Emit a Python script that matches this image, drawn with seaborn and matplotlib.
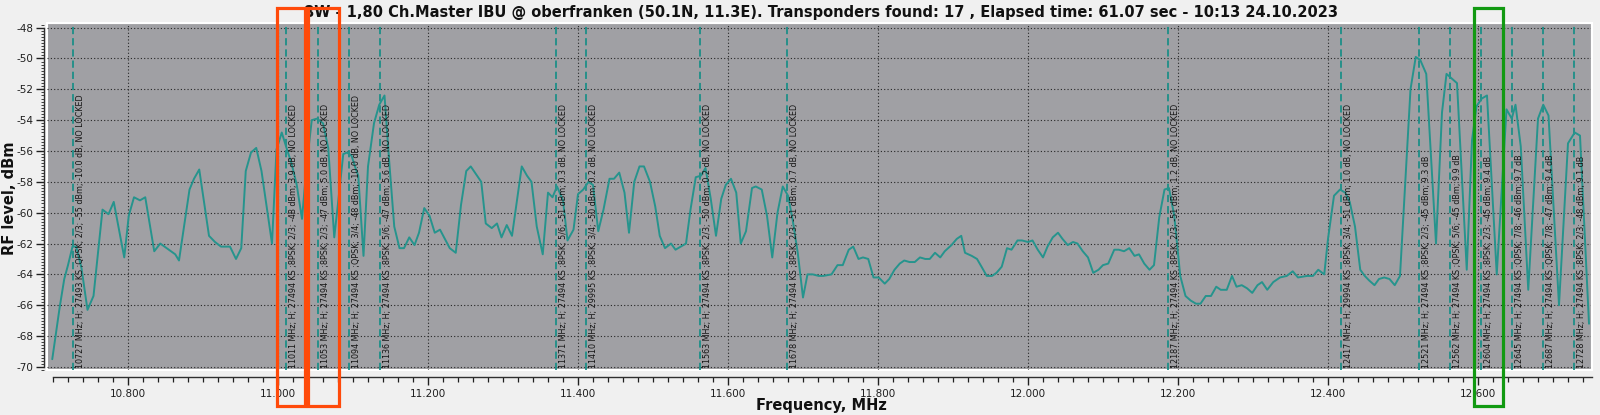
import seaborn as sns
import matplotlib.pyplot as plt
import matplotlib.transforms as mtransforms
from matplotlib.patches import Rectangle
from matplotlib.ticker import MultipleLocator, FuncFormatter

# spectrum scan
freq_mhz = [
    10699, 10709, 10715, 10720, 10726, 10731, 10738, 10746, 10754, 10766,
    10774, 10781, 10795, 10801, 10808, 10816, 10823, 10835, 10843, 10863,
    10868, 10882, 10888, 10895, 10908, 10916, 10924, 10936, 10944, 10951,
    10957, 10964, 10971, 10978, 10992, 10998, 11005, 11012, 11018, 11025,
    11032, 11038, 11045, 11052, 11060, 11067, 11075, 11080, 11087, 11092,
    11098, 11104, 11107, 11114, 11120, 11128, 11135, 11142, 11148, 11155,
    11162, 11168, 11175, 11182, 11188, 11195, 11202, 11209, 11216, 11229,
    11237, 11244, 11251, 11257, 11271, 11277, 11285, 11292, 11298, 11305,
    11312, 11325, 11332, 11338, 11345, 11353, 11360, 11366, 11372, 11380,
    11386, 11394, 11400, 11407, 11414, 11420, 11427, 11434, 11442, 11448,
    11455, 11462, 11468, 11475, 11482, 11488, 11496, 11503, 11509, 11516,
    11524, 11530, 11544, 11550, 11557, 11564, 11570, 11577, 11584, 11591,
    11597, 11604, 11611, 11617, 11624, 11632, 11637, 11645, 11652, 11659,
    11666, 11673, 11680, 11686, 11693, 11700, 11706, 11713, 11721, 11727,
    11738, 11746, 11753, 11761, 11767, 11774, 11780, 11787, 11794, 11801,
    11809, 11815, 11822, 11829, 11835, 11842, 11849, 11856, 11863, 11869,
    11876, 11883, 11889, 11898, 11905, 11911, 11916, 11925, 11932, 11938,
    11945, 11952, 11958, 11965, 11972, 11978, 11986, 11992, 12000, 12006,
    12013, 12020, 12026, 12033, 12040, 12046, 12053, 12060, 12066, 12073,
    12080, 12087, 12094, 12100, 12107, 12115, 12121, 12128, 12135, 12142,
    12148, 12155, 12162, 12168, 12175, 12182, 12188, 12195, 12203, 12210,
    12217, 12224, 12230, 12237, 12244, 12251, 12257, 12265, 12272, 12278,
    12285, 12292, 12299, 12306, 12312, 12319, 12327, 12336, 12345, 12353,
    12360, 12372, 12380, 12387, 12395, 12400, 12408, 12416, 12423, 12429,
    12436, 12443, 12449, 12455, 12462, 12468, 12475, 12482, 12489, 12496,
    12510, 12517, 12523, 12531, 12544, 12552, 12558, 12565, 12572, 12585,
    12592, 12598, 12605, 12612, 12625, 12638, 12645, 12650, 12657, 12667,
    12680, 12687, 12694, 12708, 12720, 12729, 12736, 12748,
]
level_dbm = [
    -69.5, -66.1, -64.3, -63.4, -62.2, -62.2, -63.6, -66.3, -65.4, -59.8,
    -60.1, -59.3, -62.9, -60.2, -59.0, -59.2, -59.0, -62.5, -62.0, -62.7,
    -63.1, -58.5, -57.8, -57.2, -61.5, -61.9, -62.2, -62.2, -63.0, -62.3,
    -57.3, -56.1, -55.8, -57.3, -62.0, -55.9, -54.8, -55.9, -56.8, -58.2,
    -60.4, -57.0, -54.0, -53.9, -54.2, -55.8, -61.6, -59.4, -56.2, -56.1,
    -56.3, -57.2, -57.6, -62.8, -57.0, -54.2, -53.0, -52.4, -56.5, -60.9,
    -62.3, -62.3, -61.6, -62.1, -61.3, -59.7, -60.2, -61.3, -61.1, -62.3,
    -62.6, -59.5, -57.3, -57.0, -58.0, -60.7, -61.0, -60.7, -61.6, -60.8,
    -61.5, -57.0, -57.6, -58.0, -60.9, -62.7, -58.7, -59.0, -58.3, -59.2,
    -61.8, -61.1, -58.8, -58.5, -58.0, -58.2, -61.2, -59.8, -57.8, -57.8,
    -57.4, -58.7, -61.3, -58.0, -57.0, -57.0, -58.0, -59.6, -61.5, -62.3,
    -62.0, -62.4, -62.0, -59.8, -57.7, -57.6, -57.1, -59.1, -61.5, -59.1,
    -58.2, -57.8, -58.7, -62.0, -61.2, -58.4, -58.3, -58.5, -60.2, -62.9,
    -60.0, -58.3, -58.9, -60.4, -62.6, -65.5, -64.0, -64.0, -64.1, -64.1,
    -64.0, -63.4, -63.4, -62.4, -62.2, -63.0, -62.9, -63.0, -64.2, -64.2,
    -64.6, -64.3, -63.7, -63.3, -63.1, -63.2, -63.2, -62.9, -63.0, -63.0,
    -62.6, -62.9, -62.5, -62.1, -61.7, -61.5, -62.6, -62.8, -63.0, -63.5,
    -64.1, -64.1, -63.9, -63.5, -62.3, -62.4, -61.8, -61.8, -61.9, -61.8,
    -62.4, -62.9, -62.2, -61.6, -61.3, -61.7, -62.1, -61.9, -62.0, -62.5,
    -62.9, -63.9, -63.7, -63.4, -63.3, -62.4, -62.4, -62.5, -62.3, -62.8,
    -62.7, -63.3, -63.7, -63.4, -60.3, -58.5, -58.4, -60.2, -64.1, -65.4,
    -65.7, -65.9, -65.9, -65.4, -65.4, -64.8, -65.0, -65.0, -64.1, -64.8,
    -64.7, -64.9, -65.2, -64.7, -64.5, -65.0, -64.5, -64.2, -64.1, -63.8,
    -64.2, -64.1, -64.1, -63.7, -64.0, -61.7, -58.9, -58.5, -58.7, -59.3,
    -60.9, -63.7, -64.1, -64.4, -64.7, -64.3, -64.2, -64.3, -64.7, -64.1,
    -52.0, -49.9, -50.1, -51.0, -62.0, -53.5, -51.0, -51.3, -51.6, -63.7,
    -55.3, -53.1, -52.6, -52.4, -64.0, -53.3, -53.9, -53.0, -55.7, -65.0,
    -53.9, -53.0, -53.7, -66.0, -55.5, -54.8, -55.0, -67.2,
]

# transponders found
tp_freq = [10727, 11011, 11053, 11094, 11136, 11371, 11410, 11563, 11678,
           12187, 12417, 12521, 12562, 12604, 12645, 12687, 12728]
tp_labels = [
    "10727 MHz; H; 27493 KS ;QPSK; 2/3; -55 dBm; -10.0 dB, NO LOCKED",
    "11011 MHz; H; 27494 KS ;8PSK; 2/3; -48 dBm; 3.9 dB, NO LOCKED",
    "11053 MHz; H; 27494 KS ;8PSK; 2/3; -47 dBm; 5.0 dB, NO LOCKED",
    "11094 MHz; H; 27494 KS ;QPSK; 3/4; -48 dBm; -10.0 dB, NO LOCKED",
    "11136 MHz; H; 27494 KS ;8PSK; 5/6; -47 dBm; 5.6 dB, NO LOCKED",
    "11371 MHz; H; 27494 KS ;8PSK; 5/6; -51 dBm; 0.3 dB, NO LOCKED",
    "11410 MHz; H; 29995 KS ;8PSK; 3/4; -50 dBm; 0.2 dB, NO LOCKED",
    "11563 MHz; H; 27494 KS ;8PSK; 2/3; -50 dBm; 0.2 dB, NO LOCKED",
    "11678 MHz; H; 27494 KS ;8PSK; 2/3; -51 dBm; 0.7 dB, NO LOCKED",
    "12187 MHz; H; 27494 KS ;8PSK; 2/3; -51 dBm; 1.2 dB, NO LOCKED",
    "12417 MHz; H; 29994 KS ;8PSK; 3/4; -51 dBm; 1.0 dB, NO LOCKED",
    "12521 MHz; H; 27494 KS ;8PSK; 2/3; -45 dBm; 9.3 dB",
    "12562 MHz; H; 27494 KS ;QPSK; 5/6; -45 dBm; 9.9 dB",
    "12604 MHz; H; 27494 KS ;8PSK; 2/3; -45 dBm; 9.4 dB",
    "12645 MHz; H; 27494 KS ;QPSK; 7/8; -46 dBm; 9.7 dB",
    "12687 MHz; H; 27494 KS ;QPSK; 7/8; -47 dBm; 9.4 dB",
    "12728 MHz; H; 27494 KS ;8PSK; 2/3; -48 dBm; 9.1 dB",
]

# boxes drawn over the screenshot (MHz ranges)
marks_orange = [(10999, 11036), (11040, 11081)]
marks_green = [(12595, 12633)]

title = ("8W - 1,80 Ch.Master IBU @ oberfranken (50.1N, 11.3E). "
         "Transponders found: 17 , Elapsed time: 61.07 sec - 10:13 24.10.2023")

sns.set_style("ticks")
plt.rcParams['font.family'] = ['DejaVu Sans']

W, H = 1600, 415
fig = plt.figure(figsize=(16, 4.15), dpi=100, facecolor='#f0f0f0')
ax = fig.add_axes([47 / W, 45 / H, 1545 / W, 347 / H])
ax.set_facecolor('#a0a0a4')
ax.patch.set_edgecolor('white')
ax.patch.set_linewidth(1.5)

ax.grid(True, which='major', color='#262626', linestyle=(0, (1, 2)), linewidth=0.8)
ax.set_axisbelow(True)

for f in tp_freq:
    ax.axvline(f, color='#1d8f88', lw=1.3, linestyle=(0, (4, 2.2)), zorder=2)

sns.lineplot(x=freq_mhz, y=level_dbm, ax=ax, color='#26948d', linewidth=1.4, zorder=3)

for f, lbl in zip(tp_freq, tp_labels):
    ax.annotate(lbl, xy=(f, -70.05), xytext=(2.2, 0), textcoords='offset points',
                rotation=90, ha='left', va='bottom', fontsize=5.8, color='#151515', zorder=4)

ax.set_xlim(10692, 12752)
ax.set_ylim(-70.2, -47.7)

ax.xaxis.set_major_locator(MultipleLocator(200))
ax.xaxis.set_minor_locator(MultipleLocator(20))
ax.xaxis.set_major_formatter(FuncFormatter(lambda v, p: f"{v / 1000:.3f}"))
ax.yaxis.set_major_locator(MultipleLocator(2))
ax.yaxis.set_minor_locator(MultipleLocator(0.2))
ax.yaxis.set_major_formatter(FuncFormatter(lambda v, p: f"{v:.0f}"))

ax.tick_params(axis='x', which='major', length=6, width=1, colors='#202020',
               labelsize=7.5, pad=3)
ax.tick_params(axis='x', which='minor', length=3.5, width=0.9, colors='#202020')
ax.tick_params(axis='y', which='major', length=6, width=1, colors='#202020',
               labelsize=7.5, pad=1.5)
ax.tick_params(axis='y', which='minor', length=2.5, width=0.6, colors='#202020')

for side in ['left', 'bottom']:
    ax.spines[side].set_color('#303030')
    ax.spines[side].set_linewidth(1)
ax.spines['left'].set_position(('outward', 2))
ax.spines['bottom'].set_position(('outward', 5))
ax.spines['left'].set_bounds(-70, -48)
ax.spines['bottom'].set_bounds(10700, 12752)
for side in ['top', 'right']:
    ax.spines[side].set_visible(True)
    ax.spines[side].set_color('white')
    ax.spines[side].set_linewidth(1.5)

fig.text(821 / W, 1 - 13 / H, title, ha='center', va='center',
         fontweight='bold', fontsize=10.5, color='#111111')
fig.text(821 / W, 1 - 405 / H, 'Frequency, MHz', ha='center', va='center',
         fontweight='bold', fontsize=10.5, color='#111111')
fig.text(10 / W, 1 - 198 / H, 'RF level, dBm', ha='center', va='center', rotation=90,
         fontweight='bold', fontsize=10.5, color='#111111')

trans = mtransforms.blended_transform_factory(ax.transData, fig.transFigure)
for (x0, x1), col in [(m, '#ff4a0a') for m in marks_orange] + [(m, '#129a12') for m in marks_green]:
    rect = Rectangle((x0, 9 / H), x1 - x0, 398 / H, fill=False, edgecolor=col,
                     linewidth=2.3, transform=trans, clip_on=False, zorder=10)
    fig.add_artist(rect)

fig.savefig('out.png', dpi=100, facecolor=fig.get_facecolor())
